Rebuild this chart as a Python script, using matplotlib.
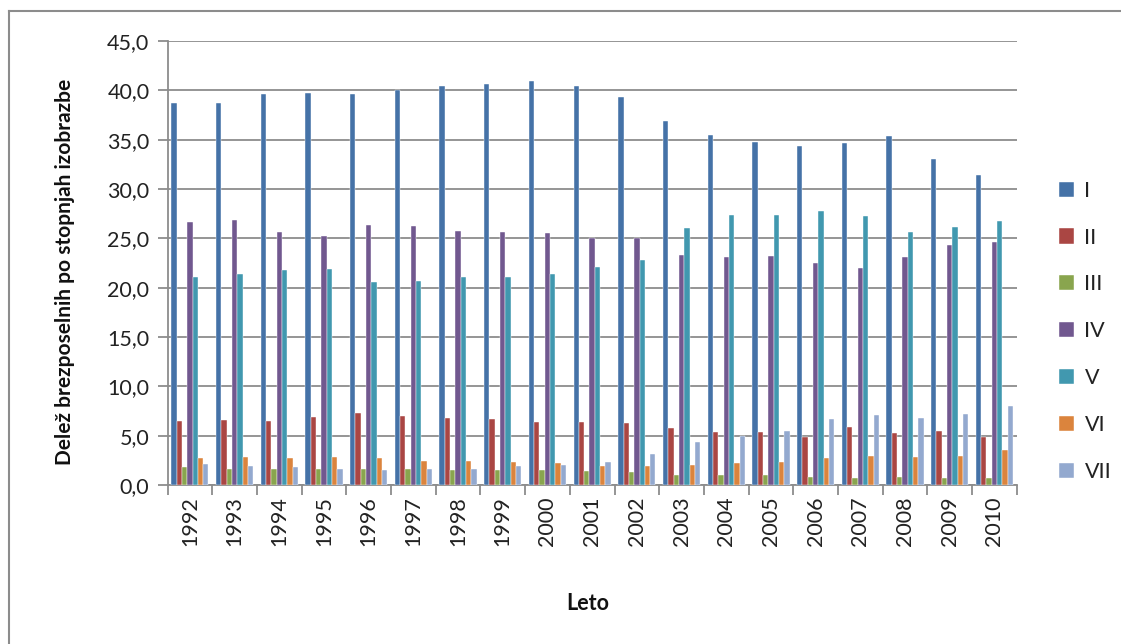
import matplotlib
matplotlib.use("Agg")
import matplotlib.pyplot as plt
import numpy as np
from matplotlib.lines import Line2D
from matplotlib.ticker import FuncFormatter, FixedLocator

years = ["1992", "1993", "1994", "1995", "1996", "1997", "1998", "1999", "2000", "2001",
         "2002", "2003", "2004", "2005", "2006", "2007", "2008", "2009", "2010"]
series_names = ["I", "II", "III", "IV", "V", "VI", "VII"]

s_I = [38.7, 38.7, 39.6, 39.7, 39.6, 40.0, 40.4, 40.6, 40.9, 40.4,
       39.3, 36.9, 35.5, 34.8, 34.4, 34.7, 35.4, 33.0, 31.4]
s_II = [6.5, 6.6, 6.5, 6.9, 7.3, 7.0, 6.75, 6.7, 6.4, 6.4,
        6.3, 5.8, 5.4, 5.4, 4.9, 5.9, 5.25, 5.5, 4.9]
s_III = [1.8, 1.65, 1.65, 1.65, 1.65, 1.65, 1.5, 1.5, 1.5, 1.4,
         1.3, 1.0, 1.0, 1.0, 0.85, 0.7, 0.85, 0.7, 0.7]
s_IV = [26.7, 26.9, 25.6, 25.2, 26.4, 26.3, 25.7, 25.6, 25.5, 25.0,
        25.0, 23.3, 23.1, 23.2, 22.5, 22.0, 23.1, 24.3, 24.6]
s_V = [21.1, 21.4, 21.8, 21.9, 20.6, 20.7, 21.1, 21.1, 21.4, 22.1,
       22.8, 26.0, 27.4, 27.4, 27.8, 27.3, 25.6, 26.1, 26.8]
s_VI = [2.7, 2.85, 2.7, 2.85, 2.7, 2.45, 2.45, 2.35, 2.2, 1.9,
        1.9, 2.05, 2.2, 2.35, 2.7, 2.95, 2.85, 2.95, 3.5]
s_VII = [2.1, 1.9, 1.8, 1.65, 1.5, 1.65, 1.65, 1.9, 2.05, 2.35,
         3.1, 4.4, 4.95, 5.5, 6.65, 7.1, 6.8, 7.2, 8.0]

series = [s_I, s_II, s_III, s_IV, s_V, s_VI, s_VII]
colors = ["#4572A7", "#AA4643", "#89A54E", "#71588F", "#4198AF", "#DB843D", "#93A9CF"]

font = "Lato"
plt.rcParams["font.family"] = [font, "DejaVu Sans"]

W, H = 1121, 644
fig = plt.figure(figsize=(W / 100, H / 100), dpi=100)
ax = fig.add_axes([167.5 / W, 1 - 485 / H, (1016.8 - 167.5) / W, (485 - 41) / H])

x = np.arange(len(years))
bw = 0.119
n = len(series)
for k, (vals, c, name) in enumerate(zip(series, colors, series_names)):
    offs = (k - (n - 1) / 2) * bw
    ax.bar(x + offs, vals, width=bw, color=c, label=name,
           edgecolor="white", linewidth=0.3, zorder=3)

ax.set_xlim(-0.5, len(years) - 0.5)
ax.set_ylim(0, 45)
ax.yaxis.set_major_locator(FixedLocator(np.arange(0, 45.1, 5)))
ax.yaxis.set_major_formatter(FuncFormatter(lambda v, p: f"{v:.1f}".replace(".", ",")))
ax.grid(axis="y", color="#8c8c8c", linewidth=1.3, zorder=0)
ax.set_axisbelow(True)

ax.set_xticks(x)
ax.set_xticklabels(years, rotation=90, fontsize=15.5, color="#222222")
ax.set_xticks(np.arange(-0.5, len(years), 1), minor=True)
ax.tick_params(axis="x", which="major", length=0, pad=8)
ax.tick_params(axis="x", which="minor", length=7, width=1.3, color="#8c8c8c")
ax.tick_params(axis="y", which="major", length=7, width=1.3, color="#8c8c8c",
               labelsize=15.5, labelcolor="#222222", pad=6)

for sp in ["top", "right"]:
    ax.spines[sp].set_visible(False)
for sp in ["left", "bottom"]:
    ax.spines[sp].set_color("#8c8c8c")
    ax.spines[sp].set_linewidth(1.3)

fig.text(65 / W, 1 - 272 / H, "Delež brezposelnih po stopnjah izobrazbe",
         rotation=90, ha="center", va="center", fontsize=15, fontweight="bold",
         color="#111111")
fig.text(588 / W, 1 - 603 / H, "Leto", ha="center", va="center",
         fontsize=15.5, fontweight="bold", color="#111111")

leg = fig.legend(loc="upper left", bbox_to_anchor=(1050 / W, 1 - 172 / H),
                 frameon=False, fontsize=15.5, handlelength=0.7, handleheight=0.7,
                 handletextpad=0.5, labelspacing=1.25, borderaxespad=0)
for t in leg.get_texts():
    t.set_color("#222222")

fig.add_artist(Line2D([9 / W, 9 / W], [0, 1 - 11 / H], transform=fig.transFigure,
                      color="#8c8c8c", linewidth=1.5))
fig.add_artist(Line2D([9 / W, 1], [1 - 11 / H, 1 - 11 / H], transform=fig.transFigure,
                      color="#8c8c8c", linewidth=1.5))

fig.savefig("out.png", dpi=100)
